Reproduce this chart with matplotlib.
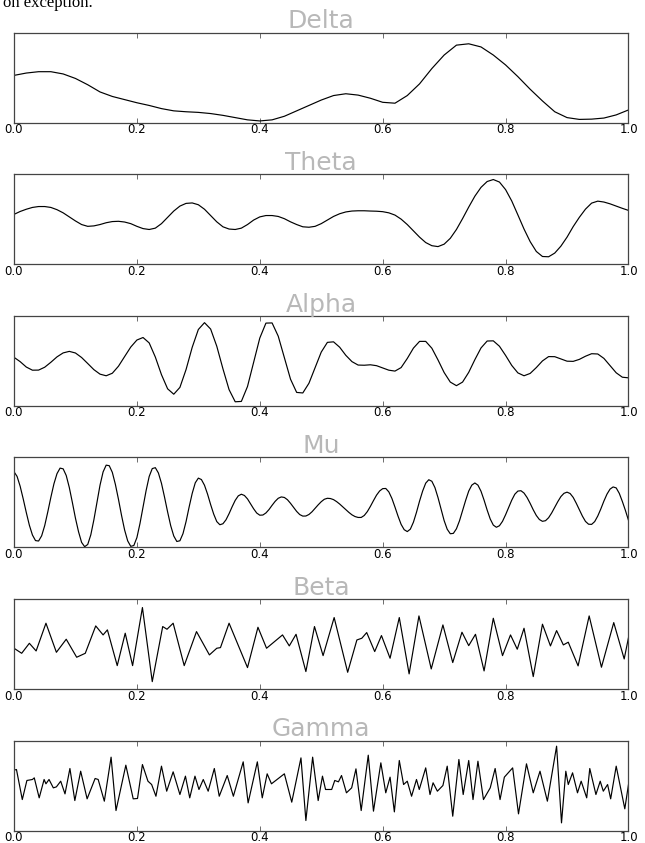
import numpy as np
import matplotlib
matplotlib.use('Agg')
import matplotlib.pyplot as plt

titles = ['Delta', 'Theta', 'Alpha', 'Mu', 'Beta', 'Gamma']
xticks = [0.0, 0.2, 0.4, 0.6, 0.8, 1.0]
xlabels = ['0.0', '0.2', '0.4', '0.6', '0.8', '1.0']

# amplitudes, scaled 0..1 inside each panel
delta_t = np.linspace(0, 1, 51)
delta = [0.524, 0.55, 0.565, 0.565, 0.54, 0.49, 0.42, 0.34, 0.29, 0.255,
         0.22, 0.19, 0.155, 0.13, 0.12, 0.113, 0.10, 0.08, 0.055, 0.03,
         0.018, 0.03, 0.07, 0.13, 0.19, 0.25, 0.30, 0.32, 0.305, 0.27,
         0.225, 0.215, 0.30, 0.43, 0.60, 0.75, 0.86, 0.875, 0.84, 0.75,
         0.64, 0.51, 0.37, 0.24, 0.12, 0.055, 0.035, 0.038, 0.05, 0.085,
         0.14]

theta_t = np.linspace(0, 1, 101)
theta = [0.553, 0.585, 0.61, 0.63, 0.64, 0.64, 0.63, 0.605, 0.57, 0.525,
         0.48, 0.44, 0.42, 0.425, 0.44, 0.46, 0.473, 0.476, 0.468, 0.45,
         0.42, 0.395, 0.385, 0.40, 0.45, 0.52, 0.59, 0.645, 0.675, 0.68,
         0.66, 0.61, 0.54, 0.47, 0.415, 0.39, 0.385, 0.40, 0.44, 0.49,
         0.525, 0.54, 0.54, 0.53, 0.505, 0.47, 0.44, 0.415, 0.41, 0.42,
         0.45, 0.49, 0.53, 0.56, 0.58, 0.59, 0.593, 0.593, 0.59, 0.588,
         0.583, 0.57, 0.545, 0.50, 0.44, 0.37, 0.30, 0.24, 0.205, 0.195,
         0.222, 0.287, 0.385, 0.506, 0.634, 0.755, 0.853, 0.918, 0.94, 0.912,
         0.828, 0.702, 0.547, 0.39, 0.25, 0.141, 0.085, 0.082, 0.123, 0.20,
         0.30, 0.417, 0.52, 0.611, 0.678, 0.70, 0.69, 0.67, 0.645, 0.62,
         0.597]

alpha_t = np.linspace(0, 1, 101)
alpha = [0.538, 0.49, 0.43, 0.395, 0.396, 0.428, 0.483, 0.543, 0.587, 0.604,
         0.586, 0.536, 0.469, 0.401, 0.351, 0.333, 0.361, 0.439, 0.546, 0.652,
         0.730, 0.758, 0.698, 0.541, 0.345, 0.188, 0.128, 0.204, 0.402, 0.649,
         0.847, 0.923, 0.852, 0.661, 0.411, 0.179, 0.044, 0.048, 0.214, 0.483,
         0.752, 0.918, 0.920, 0.773, 0.534, 0.295, 0.148, 0.142, 0.250, 0.423,
         0.596, 0.704, 0.71, 0.65, 0.56, 0.49, 0.452, 0.45, 0.455, 0.445,
         0.42, 0.395, 0.385, 0.424, 0.525, 0.64, 0.715, 0.715, 0.639, 0.509,
         0.369, 0.263, 0.223, 0.263, 0.371, 0.512, 0.642, 0.719, 0.721, 0.661,
         0.559, 0.448, 0.365, 0.333, 0.359, 0.424, 0.498, 0.546, 0.545, 0.52,
         0.495, 0.493, 0.515, 0.55, 0.578, 0.575, 0.526, 0.446, 0.366, 0.317,
         0.31]

mu_t = np.linspace(0, 1, 201)
mu = [0.84, 0.788, 0.679, 0.538, 0.387, 0.246, 0.137, 0.075, 0.070, 0.128,
      0.242, 0.394, 0.556, 0.706, 0.819, 0.880, 0.872, 0.798, 0.665, 0.498,
      0.324, 0.174, 0.055, 0.007, 0.032, 0.139, 0.306, 0.502, 0.691, 0.838,
      0.913, 0.907, 0.833, 0.699, 0.534, 0.355, 0.193, 0.072, 0.011, 0.020,
      0.108, 0.264, 0.448, 0.631, 0.787, 0.875, 0.885, 0.826, 0.711, 0.557,
      0.393, 0.241, 0.126, 0.065, 0.073, 0.152, 0.286, 0.448, 0.599, 0.717,
      0.769, 0.753, 0.690, 0.591, 0.475, 0.369, 0.286, 0.251, 0.262, 0.306,
      0.374, 0.451, 0.522, 0.572, 0.590, 0.576, 0.538, 0.484, 0.428, 0.381,
      0.357, 0.359, 0.382, 0.420, 0.467, 0.511, 0.545, 0.560, 0.554, 0.529,
      0.489, 0.443, 0.399, 0.364, 0.347, 0.348, 0.365, 0.395, 0.433, 0.472,
      0.507, 0.534, 0.545, 0.542, 0.530, 0.508, 0.481, 0.450, 0.418, 0.388,
      0.361, 0.342, 0.332, 0.332, 0.354, 0.397, 0.455, 0.519, 0.580, 0.626,
      0.652, 0.654, 0.616, 0.543, 0.447, 0.346, 0.255, 0.196, 0.175, 0.202,
      0.279, 0.389, 0.514, 0.625, 0.713, 0.751, 0.734, 0.664, 0.553, 0.423,
      0.297, 0.201, 0.151, 0.155, 0.206, 0.295, 0.407, 0.522, 0.625, 0.691,
      0.715, 0.691, 0.623, 0.524, 0.414, 0.315, 0.247, 0.223, 0.240, 0.289,
      0.362, 0.444, 0.524, 0.590, 0.625, 0.629, 0.603, 0.553, 0.488, 0.417,
      0.354, 0.309, 0.289, 0.296, 0.329, 0.382, 0.444, 0.508, 0.564, 0.600,
      0.613, 0.598, 0.555, 0.490, 0.418, 0.347, 0.288, 0.257, 0.255, 0.286,
      0.348, 0.427, 0.514, 0.591, 0.647, 0.671, 0.66, 0.60, 0.51, 0.41,
      0.30]

beta_t = [0.0, 0.0125, 0.025, 0.036, 0.052, 0.069, 0.085, 0.102, 0.116, 0.133,
          0.145, 0.152, 0.168, 0.181, 0.193, 0.209, 0.225, 0.242, 0.249, 0.259,
          0.277, 0.297, 0.318, 0.330, 0.336, 0.350, 0.380, 0.397, 0.411, 0.437,
          0.448, 0.459, 0.475, 0.489, 0.503, 0.521, 0.543, 0.558, 0.566, 0.574,
          0.587, 0.598, 0.612, 0.627, 0.643, 0.659, 0.679, 0.698, 0.714, 0.729,
          0.740, 0.751, 0.765, 0.780, 0.795, 0.808, 0.819, 0.830, 0.845, 0.860,
          0.873, 0.883, 0.894, 0.902, 0.918, 0.936, 0.956, 0.976, 0.993, 1.0]
beta = [0.452, 0.396, 0.507, 0.422, 0.730, 0.407, 0.552, 0.352, 0.396, 0.70,
        0.60, 0.656, 0.259, 0.619, 0.259, 0.904, 0.081, 0.693, 0.663, 0.730,
        0.259, 0.637, 0.378, 0.452, 0.459, 0.730, 0.237, 0.685, 0.452, 0.60,
        0.478, 0.607, 0.193, 0.693, 0.37, 0.793, 0.185, 0.544, 0.563, 0.626,
        0.415, 0.593, 0.341, 0.793, 0.167, 0.811, 0.222, 0.711, 0.293, 0.630,
        0.481, 0.607, 0.20, 0.785, 0.370, 0.60, 0.441, 0.674, 0.137, 0.719,
        0.478, 0.648, 0.489, 0.519, 0.256, 0.811, 0.241, 0.737, 0.333, 0.570]

gamma_t = [0.0, 0.004, 0.0135, 0.021, 0.030, 0.033, 0.041, 0.049, 0.052, 0.057,
           0.064, 0.069, 0.076, 0.083, 0.091, 0.099, 0.1085, 0.119, 0.132, 0.137,
           0.147, 0.158, 0.166, 0.182, 0.194, 0.201, 0.209, 0.218, 0.224, 0.231,
           0.240, 0.2485, 0.259, 0.270, 0.279, 0.286, 0.2945, 0.301, 0.308, 0.316,
           0.326, 0.334, 0.347, 0.357, 0.373, 0.381, 0.396, 0.404, 0.412, 0.419,
           0.440, 0.452, 0.467, 0.475, 0.486, 0.495, 0.502, 0.507, 0.517, 0.522,
           0.528, 0.533, 0.541, 0.5495, 0.5565, 0.565, 0.5765, 0.585, 0.597, 0.605,
           0.612, 0.619, 0.627, 0.634, 0.640, 0.647, 0.655, 0.6595, 0.670, 0.677,
           0.682, 0.689, 0.698, 0.705, 0.714, 0.724, 0.731, 0.740, 0.747, 0.755,
           0.764, 0.775, 0.783, 0.791, 0.798, 0.8115, 0.821, 0.834, 0.845, 0.856,
           0.868, 0.883, 0.891, 0.898, 0.902, 0.909, 0.917, 0.923, 0.932, 0.937,
           0.947, 0.954, 0.959, 0.966, 0.971, 0.980, 0.994, 1.0]
gamma = [0.670, 0.678, 0.344, 0.556, 0.567, 0.585, 0.363, 0.567, 0.519, 0.567,
         0.474, 0.485, 0.548, 0.407, 0.689, 0.333, 0.659, 0.352, 0.578, 0.567,
         0.326, 0.815, 0.222, 0.726, 0.352, 0.356, 0.733, 0.548, 0.511, 0.381,
         0.715, 0.437, 0.652, 0.400, 0.604, 0.363, 0.604, 0.456, 0.567, 0.437,
         0.689, 0.381, 0.611, 0.381, 0.763, 0.307, 0.763, 0.363, 0.630, 0.519,
         0.630, 0.315, 0.807, 0.111, 0.815, 0.333, 0.604, 0.456, 0.456, 0.556,
         0.541, 0.611, 0.419, 0.474, 0.685, 0.222, 0.837, 0.215, 0.752, 0.419,
         0.593, 0.207, 0.778, 0.511, 0.548, 0.381, 0.567, 0.456, 0.696, 0.400,
         0.530, 0.437, 0.5, 0.715, 0.159, 0.789, 0.400, 0.778, 0.344, 0.770,
         0.344, 0.474, 0.689, 0.344, 0.593, 0.696, 0.185, 0.741, 0.419, 0.659,
         0.326, 0.937, 0.085, 0.659, 0.511, 0.641, 0.419, 0.548, 0.363, 0.689,
         0.400, 0.548, 0.437, 0.511, 0.352, 0.715, 0.241, 0.511]

series = [(delta_t, delta), (theta_t, theta), (alpha_t, alpha),
          (mu_t, mu), (beta_t, beta), (gamma_t, gamma)]

fig, axs = plt.subplots(6, 1, figsize=(6.45, 8.43), dpi=100)
fig.subplots_adjust(left=0.0217, right=0.9744, top=0.9614, bottom=0.0148, hspace=0.573)

for ax, title, (t, v) in zip(axs, titles, series):
    ax.plot(t, v, color='black', lw=0.85, solid_joinstyle='round')
    ax.set_xlim(0, 1)
    ax.set_ylim(0, 1)
    ax.set_yticks([])
    ax.set_xticks(xticks)
    ax.set_xticklabels(xlabels)
    ax.tick_params(axis='x', direction='in', top=True, length=3.5, width=0.6,
                   labelsize=8.5, pad=0.5, color='#555555')
    ax.set_title(title, color='#b8b8b8', fontsize=18, pad=3)
    for s in ax.spines.values():
        s.set_color('#444444')
        s.set_linewidth(0.9)

# leftover line of page text above the chart, cut at the top
fig.text(0.004, 1 - 7 / 843, 'on exception.', family='Liberation Serif',
         fontsize=12, va='baseline', ha='left', color='black')

fig.savefig('out.png', dpi=100)
